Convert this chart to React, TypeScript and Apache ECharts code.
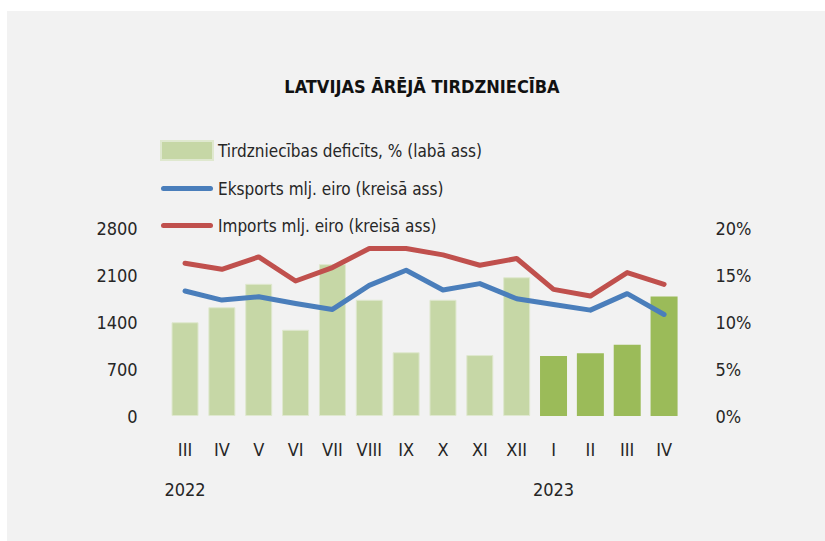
import React, { useEffect, useRef } from "react";
import * as echarts from "echarts";

const months = ["III", "IV", "V", "VI", "VII", "VIII", "IX", "X", "XI", "XII", "I", "II", "III", "IV"];
const yearLabels: Record<number, string> = { 0: "2022", 10: "2023" };
const deficit = [10.0, 11.6, 14.1, 9.2, 16.2, 12.4, 6.8, 12.4, 6.5, 14.8, 6.4, 6.7, 7.6, 12.75];
const exportsVals = [1866, 1731, 1781, 1681, 1591, 1951, 2176, 1881, 1977, 1751, 1666, 1581, 1827, 1516];
const importsVals = [2282, 2191, 2376, 2016, 2217, 2502, 2502, 2406, 2251, 2352, 1891, 1791, 2142, 1966];
const leftTicks = { min: 0, max: 2800, interval: 700 };
const rightTicks = { min: 0, max: 20, interval: 5 };
const highlightFrom = 10;

const FONT = "'DejaVu Sans Condensed', 'Liberation Sans', sans-serif";
const LIGHT = "#c6d7a6";
const DARK = "#9bbb59";
const BLUE = "#4a7ebb";
const RED = "#c0504d";
const TXT = "#262626";
const LINE_ICON = "path://M2.5,0 L49.5,0 A2.5,2.5 0 0 1 49.5,5 L2.5,5 A2.5,2.5 0 0 1 2.5,0 Z";

export default function App() {
  const ref = useRef<HTMLDivElement>(null);
  useEffect(() => {
    if (!ref.current) return;
    const chart = echarts.init(ref.current, undefined, { renderer: "svg" });
    chart.setOption({
      animation: false,
      backgroundColor: "#ffffff",
      textStyle: { fontFamily: FONT },
      graphic: [
        { type: "rect", z: -10, shape: { x: 7, y: 11, width: 830, height: 540 }, style: { fill: "#f2f2f2" } },
        {
          type: "text",
          x: 422,
          y: 86,
          style: {
            text: "LATVIJAS ĀRĒJĀ TIRDZNIECĪBA",
            fontFamily: FONT,
            fontSize: 18,
            fontWeight: "bold",
            fill: "#111",
            textAlign: "center",
            textVerticalAlign: "middle",
          },
        },
      ],
      legend: {
        orient: "vertical",
        left: 155,
        top: 135,
        itemWidth: 52,
        itemHeight: 19,
        itemGap: 18,
        textStyle: { fontFamily: FONT, fontSize: 17, color: TXT, lineHeight: 19 },
        data: [
          { name: "Tirdzniecības deficīts, % (labā ass)", icon: "rect" },
          { name: "Eksports mlj. eiro (kreisā ass)", icon: LINE_ICON },
          { name: "Imports mlj. eiro (kreisā ass)", icon: LINE_ICON },
        ],
      },
      grid: { left: 166.6, right: 142.5, top: 228.5, bottom: 125 },
      xAxis: {
        type: "category",
        data: months,
        axisLine: { show: false },
        axisTick: { show: false },
        axisLabel: {
          interval: 0,
          margin: 21,
          formatter: (v: string, i: number) =>
            yearLabels[i] ? `{m|${v}}\n{y|${yearLabels[i]}}` : `{m|${v}}`,
          rich: {
            m: { fontFamily: FONT, fontSize: 18, lineHeight: 24, color: TXT },
            y: { fontFamily: FONT, fontSize: 18, lineHeight: 56, color: TXT },
          },
        },
      },
      yAxis: [
        {
          type: "value",
          ...leftTicks,
          splitLine: { show: false },
          axisLine: { show: false },
          axisTick: { show: false },
          axisLabel: {
            margin: 29,
            fontFamily: FONT,
            fontSize: 18,
            color: TXT,
            formatter: (v: number) => String(v),
          },
        },
        {
          type: "value",
          ...rightTicks,
          position: "right",
          splitLine: { show: false },
          axisLine: { show: false },
          axisTick: { show: false },
          axisLabel: { margin: 33, fontFamily: FONT, fontSize: 18, color: TXT, formatter: "{value}%" },
        },
      ],
      series: [
        {
          name: "Tirdzniecības deficīts, % (labā ass)",
          type: "bar",
          yAxisIndex: 1,
          barWidth: 27,
          itemStyle: { color: LIGHT, borderColor: "#dfe8cf", borderWidth: 1 },
          data: deficit.map((v, i) =>
            i >= highlightFrom ? { value: v, itemStyle: { color: DARK, borderWidth: 0 } } : v
          ),
        },
        {
          name: "Eksports mlj. eiro (kreisā ass)",
          type: "line",
          yAxisIndex: 0,
          symbol: "none",
          itemStyle: { color: BLUE },
          lineStyle: { width: 5, color: BLUE, cap: "round", join: "round" },
          data: exportsVals,
        },
        {
          name: "Imports mlj. eiro (kreisā ass)",
          type: "line",
          yAxisIndex: 0,
          symbol: "none",
          itemStyle: { color: RED },
          lineStyle: { width: 5, color: RED, cap: "round", join: "round" },
          data: importsVals,
        },
      ],
    });
    return () => chart.dispose();
  }, []);
  return (
    <div
      ref={ref}
      style={{ position: "absolute", left: 0, top: 0, width: 825, height: 541 }}
    />
  );
}
